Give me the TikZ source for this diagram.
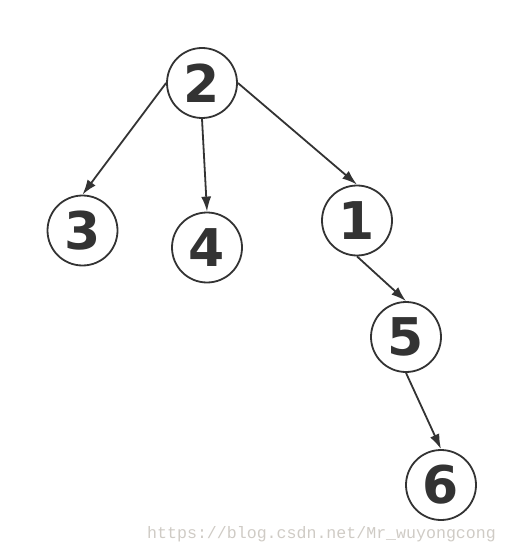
\documentclass[tikz,border=0pt]{standalone}
\usepackage{fontspec}
\newfontfamily\digitfont{DejaVu Sans}
\newfontfamily\wmfont{Liberation Mono}
\usetikzlibrary{arrows.meta}
\definecolor{ink}{HTML}{333333}
\definecolor{wm}{HTML}{CFCBC5}
\begin{document}
\begin{tikzpicture}[x=1pt,y=-1pt,
  vnode/.style={circle,draw=ink,line width=1.8pt,minimum size=70pt,inner sep=0pt,
    font=\digitfont\bfseries\fontsize{52}{52}\selectfont,text=ink},
  edge/.style={draw=ink,line width=1.8pt,-{Latex[length=15pt,width=10pt]}}]
\useasboundingbox (0,0) rectangle (508,553);
\node[vnode] (n2) at (202,83) {2};
\node[vnode] (n3) at (82.5,230.5) {3};
\node[vnode] (n4) at (207,247.5) {4};
\node[vnode] (n1) at (357,220.5) {1};
\node[vnode] (n5) at (406,337) {5};
\node[vnode] (n6) at (441,485) {6};
\draw[edge] (n2.west) -- (n3.north);
\draw[edge] (n2.south) -- (n4.north);
\draw[edge] (n2.east) -- (n1.north);
\draw[edge] (n1.south) -- (n5.north);
\draw[edge] (n5.south) -- (n6.north);
\node[anchor=base west,inner sep=0pt,text=wm,font=\wmfont\fontsize{16.6}{16.6}\selectfont] (wm) at (147,538) {https://blog.csdn.net/Mr\_wuyongcong};
\end{tikzpicture}
\end{document}
